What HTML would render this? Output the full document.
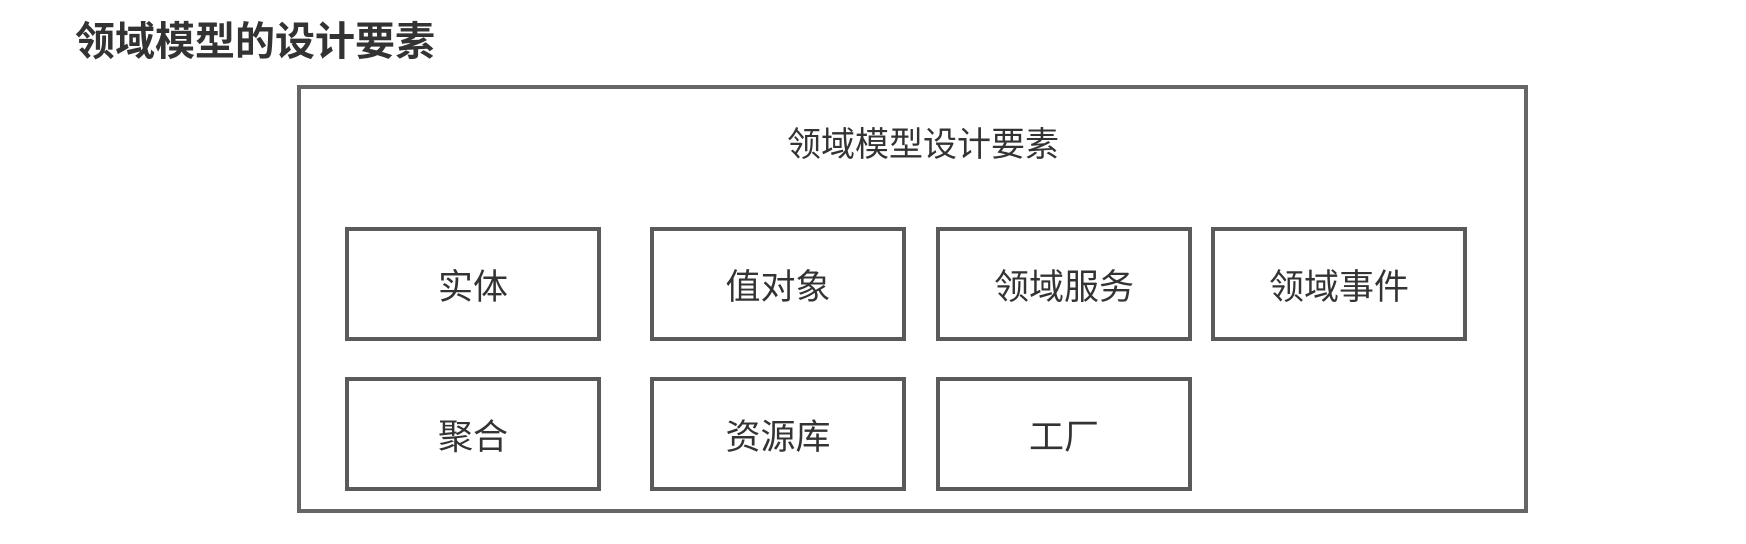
<!DOCTYPE html>
<html><head><meta charset="utf-8"><style>
body{margin:0;width:1746px;height:544px;background:#fff;position:relative;overflow:hidden;font-family:"Liberation Sans","Noto Sans CJK SC",sans-serif;}
.t{position:absolute;left:75px;top:16px;font-size:40px;font-weight:bold;color:#333;white-space:nowrap;line-height:52px;}
.outer{position:absolute;left:297px;top:85px;width:1223px;height:420px;border:4px solid #666;box-sizing:content-box;}
.it{position:absolute;left:308px;width:1230px;top:123px;text-align:center;font-size:34px;color:#333;line-height:44px;}
.b{position:absolute;width:248px;height:106px;border:4px solid #5a5a5a;display:flex;align-items:center;justify-content:center;font-size:35px;color:#333;}
</style></head><body>
<div class="t">领域模型的设计要素</div>
<div class="outer"></div>
<div class="it">领域模型设计要素</div>
<div class="b" style="left:345px;top:227px">实体</div>
<div class="b" style="left:650px;top:227px">值对象</div>
<div class="b" style="left:936px;top:227px">领域服务</div>
<div class="b" style="left:1211px;top:227px">领域事件</div>
<div class="b" style="left:345px;top:377px">聚合</div>
<div class="b" style="left:650px;top:377px">资源库</div>
<div class="b" style="left:936px;top:377px">工厂</div>
</body></html>
